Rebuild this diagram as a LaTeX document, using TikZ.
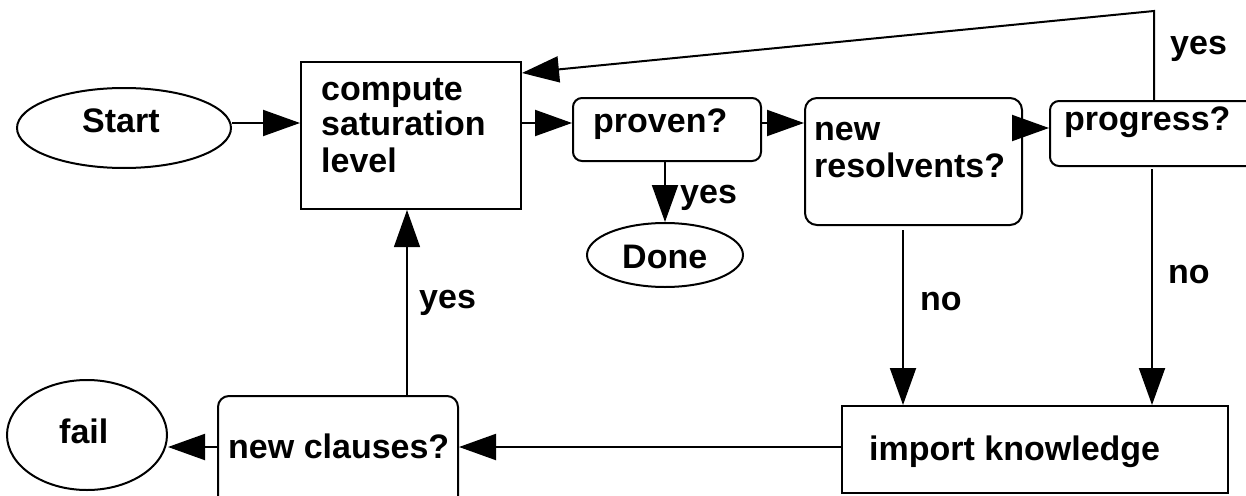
\documentclass[tikz,border=0pt]{standalone}
\usepackage{fontspec}
\setmainfont{Liberation Sans}
\usetikzlibrary{arrows.meta,shapes.geometric}
\begin{document}
\begin{tikzpicture}[x=1pt,y=-1pt,
  lbl/.style={inner sep=0pt, anchor=base west, font=\bfseries\fontsize{34}{38}\selectfont},
  box/.style={draw, line width=2pt, inner sep=0pt, anchor=north west},
  rbox/.style={box, rounded corners=9pt},
  oval/.style={draw, ellipse, line width=2pt, inner sep=0pt},
  arr/.style={line width=2pt, -{Triangle[length=37pt,width=26pt]}},
  ]
\useasboundingbox (0,0) rectangle (1246,495);
% shapes
\node[oval, minimum width=214pt, minimum height=80pt] (start) at (124,128) {};
\node[box, minimum width=220pt, minimum height=147pt] (compute) at (300,61) {};
\node[rbox, minimum width=188pt, minimum height=63pt] (proven) at (572,97) {};
\node[rbox, rounded corners=12pt, minimum width=217pt, minimum height=127pt] (newres) at (804,97) {};
\node[rbox, minimum width=215pt, minimum height=65pt] (progress) at (1049,100) {};
\node[oval, minimum width=156pt, minimum height=64pt] (done) at (665,255) {};
\node[oval, minimum width=160pt, minimum height=110pt] (fail) at (87,435) {};
\node[rbox, rounded corners=11pt, minimum width=240pt, minimum height=112pt] (newcl) at (217,395) {};
\node[box, minimum width=386pt, minimum height=87pt] (import) at (841,405) {};
% texts
\node[lbl] (tstart) at (82,132) {Start};
\node[lbl] (tc1) at (321,100) {compute};
\node[lbl] (tc2) at (321,135) {saturation};
\node[lbl] (tc3) at (321,172) {level};
\node[lbl] (tproven) at (593,132) {proven?};
\node[lbl] (tnew) at (814,140) {new};
\node[lbl] (tres) at (814,177) {resolvents?};
\node[lbl] (tprog) at (1064,130) {progress?};
\node[lbl] (tdone) at (622,268) {Done};
\node[lbl] (tfail) at (59,443) {fail};
\node[lbl] (tnc) at (228,458) {new clauses?};
\node[lbl] (timp) at (869,460) {import knowledge};
\node[lbl] (yes1) at (1170,55) {yes};
\node[lbl] (yes2) at (680,203) {yes};
\node[lbl] (yes3) at (419,308) {yes};
\node[lbl] (no1) at (920,310) {no};
\node[lbl] (no2) at (1168,283) {no};
% helper coordinates
\coordinate (r1) at (0,123);
\coordinate (r2) at (0,128);
\coordinate (r3) at (0,73);
\coordinate (r4) at (0,447);
\coordinate (fb) at (1154,11);
\coordinate (c2) at (903,0);
\coordinate (c3) at (1152,0);
\coordinate (c4) at (407,0);
% connectors
\draw[arr] ([yshift=5pt]start.east) -- ([yshift=5pt]start.east -| compute.west);
\draw[arr] (compute.east |- r1) -- (proven.west |- r1);
\draw[arr] (proven.east |- r1) -- (newres.west |- r1);
\draw[arr] (newres.east |- r2) -- (progress.west |- r2);
\draw[arr] (fb |- progress.north) -- (fb) -- (compute.east |- r3);
\draw[arr] (proven.south -| done.north) -- (done.north);
\draw[arr] ([yshift=-4pt]newres.south -| c2) -- (import.north -| c2);
\draw[arr] ([yshift=-2pt]progress.south -| c3) -- (import.north -| c3);
\draw[arr] (import.west |- r4) -- (newcl.east |- r4);
\draw[arr] (newcl.west |- r4) -- (fail.east |- r4);
\draw[arr, line width=1.2pt] (newcl.north -| c4) -- (compute.south -| c4);
\end{tikzpicture}
\end{document}
